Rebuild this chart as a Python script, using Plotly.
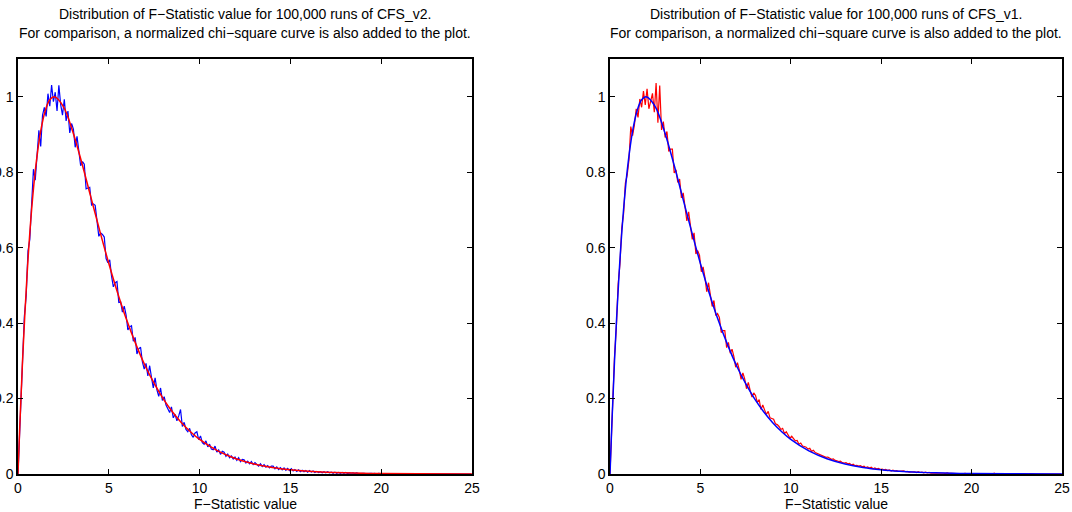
import numpy as np
import plotly.graph_objects as go

# Histogram bin centres (0.1 wide) plus the origin
hist_x = [0.0] + [round(0.05 + 0.1 * i, 2) for i in range(250)]

# Left panel: CFS_v2 histogram (blue), normalised
cfs_v2 = [0.0,
    0.058, 0.205, 0.287, 0.418, 0.472, 0.591, 0.622, 0.716, 0.808, 0.779,
    0.862, 0.911, 0.868, 0.951, 0.972, 0.948, 1.008, 0.975, 1.031, 0.987,
    1.012, 0.962, 1.030, 0.979, 0.951, 0.993, 0.936, 0.962, 0.904, 0.929,
    0.914, 0.866, 0.895, 0.857, 0.817, 0.828, 0.821, 0.756, 0.758, 0.760,
    0.713, 0.716, 0.712, 0.662, 0.630, 0.639, 0.635, 0.628, 0.571, 0.560,
    0.568, 0.525, 0.496, 0.507, 0.510, 0.455, 0.457, 0.429, 0.445, 0.422,
    0.382, 0.390, 0.393, 0.352, 0.362, 0.318, 0.332, 0.336, 0.297, 0.278,
    0.293, 0.260, 0.287, 0.256, 0.228, 0.255, 0.223, 0.206, 0.228, 0.195,
    0.205, 0.183, 0.172, 0.163, 0.178, 0.149, 0.158, 0.141, 0.154, 0.171,
    0.126, 0.137, 0.118, 0.112, 0.121, 0.104, 0.097, 0.109, 0.112, 0.091,
    0.101, 0.083, 0.079, 0.088, 0.072, 0.079, 0.066, 0.064, 0.074, 0.058,
    0.064, 0.052, 0.060, 0.058, 0.047, 0.053, 0.043, 0.048, 0.040, 0.045,
    0.036, 0.043, 0.033, 0.039, 0.038, 0.029, 0.034, 0.027, 0.033, 0.025,
    0.030, 0.024, 0.021, 0.027, 0.020, 0.025, 0.018, 0.022, 0.016, 0.021,
    0.021, 0.014, 0.019, 0.012, 0.017, 0.011, 0.016, 0.010, 0.015, 0.009,
    0.014, 0.008, 0.012, 0.007, 0.011, 0.006, 0.010, 0.006, 0.009, 0.005,
    0.009, 0.005, 0.008, 0.004, 0.007, 0.004, 0.006, 0.003, 0.006, 0.003,
    0.006, 0.003, 0.005, 0.002, 0.005, 0.002, 0.004, 0.002, 0.004, 0.002,
    0.004, 0.001, 0.003, 0.002, 0.003, 0.001, 0.003, 0.001, 0.002, 0.001,
    0.002, 0.001, 0.002, 0.001, 0.002, 0.001, 0.002, 0.000, 0.002, 0.001,
    0.001, 0.002, 0.000, 0.001, 0.001, 0.000, 0.001, 0.002, 0.000, 0.001,
    0.000, 0.001, 0.001, 0.000, 0.001, 0.000, 0.000, 0.001, 0.000, 0.001,
    0.000, 0.000, 0.001, 0.000, 0.000, 0.001, 0.000, 0.000, 0.000, 0.001,
    0.000, 0.000, 0.000, 0.001, 0.000, 0.000, 0.000, 0.000, 0.001, 0.000,
    0.000, 0.000, 0.000, 0.000, 0.001, 0.000, 0.000, 0.000, 0.000, 0.000]

# Right panel: CFS_v1 histogram (red), normalised
cfs_v1 = [0.0,
    0.071, 0.178, 0.312, 0.388, 0.503, 0.556, 0.651, 0.689, 0.771, 0.792,
    0.833, 0.921, 0.897, 0.925, 0.968, 0.945, 0.994, 0.972, 1.015, 0.978,
    1.021, 0.968, 0.985, 1.009, 0.959, 1.036, 0.931, 1.030, 0.912, 0.934,
    0.892, 0.908, 0.855, 0.861, 0.861, 0.798, 0.806, 0.773, 0.782, 0.732,
    0.745, 0.702, 0.671, 0.695, 0.659, 0.622, 0.639, 0.583, 0.592, 0.580,
    0.536, 0.549, 0.521, 0.483, 0.507, 0.478, 0.444, 0.460, 0.420, 0.425,
    0.415, 0.375, 0.380, 0.380, 0.335, 0.349, 0.320, 0.331, 0.312, 0.283,
    0.295, 0.276, 0.251, 0.268, 0.252, 0.226, 0.243, 0.222, 0.204, 0.215,
    0.208, 0.190, 0.197, 0.171, 0.183, 0.170, 0.158, 0.166, 0.149, 0.147,
    0.145, 0.133, 0.131, 0.126, 0.118, 0.121, 0.107, 0.112, 0.103, 0.095,
    0.100, 0.093, 0.088, 0.089, 0.079, 0.082, 0.074, 0.073, 0.071, 0.066,
    0.068, 0.060, 0.063, 0.057, 0.055, 0.054, 0.050, 0.048, 0.047, 0.044,
    0.045, 0.041, 0.039, 0.040, 0.036, 0.035, 0.033, 0.034, 0.030, 0.029,
    0.030, 0.027, 0.028, 0.024, 0.026, 0.022, 0.023, 0.021, 0.022, 0.019,
    0.021, 0.017, 0.019, 0.016, 0.018, 0.014, 0.016, 0.013, 0.015, 0.012,
    0.013, 0.011, 0.012, 0.009, 0.011, 0.008, 0.010, 0.008, 0.009, 0.007,
    0.008, 0.007, 0.008, 0.006, 0.007, 0.005, 0.006, 0.005, 0.006, 0.004,
    0.006, 0.004, 0.005, 0.003, 0.005, 0.003, 0.004, 0.002, 0.003, 0.002,
    0.003, 0.002, 0.003, 0.002, 0.002, 0.001, 0.003, 0.001, 0.002, 0.001,
    0.002, 0.001, 0.001, 0.002, 0.001, 0.001, 0.002, 0.000, 0.001, 0.001,
    0.001, 0.001, 0.000, 0.001, 0.001, 0.000, 0.001, 0.001, 0.000, 0.001,
    0.001, 0.000, 0.002, 0.000, 0.001, 0.000, 0.000, 0.001, 0.000, 0.000,
    0.000, 0.001, 0.000, 0.000, 0.001, 0.000, 0.000, 0.000, 0.001, 0.000,
    0.000, 0.000, 0.001, 0.000, 0.000, 0.000, 0.000, 0.001, 0.000, 0.000,
    0.000, 0.000, 0.000, 0.000, 0.000, 0.001, 0.000, 0.000, 0.000, 0.000]

# Normalised chi-square reference curve
chi_x = [0, 0.1, 0.25, 0.5, 0.75, 1, 1.25, 1.5, 1.75, 2, 2.5, 3, 3.5, 4, 4.5, 5,
         5.5, 6, 6.5, 7, 7.5, 8, 8.5, 9, 9.5, 10, 11, 12, 13, 14, 15, 16, 17,
         18, 19, 20, 22, 25]
chi_y = [0, 0.129, 0.300, 0.529, 0.701, 0.824, 0.909, 0.963, 0.992, 1.000,
         0.974, 0.910, 0.827, 0.736, 0.645, 0.558, 0.478, 0.406, 0.343, 0.287,
         0.240, 0.199, 0.165, 0.136, 0.112, 0.0916, 0.0611, 0.0404, 0.0266,
         0.0174, 0.0113, 0.0073, 0.0047, 0.0030, 0.0019, 0.0012, 0.0005, 0.0001]

x_ticks = [0, 5, 10, 15, 20, 25]
y_ticks = [0, 0.2, 0.4, 0.6, 0.8, 1]
y_tick_text = ["0", "0.2", "0.4", "0.6", "0.8", "1"]

title_l1 = ["Distribution of F\u2212Statistic value for 100,000 runs of CFS_v2.",
            "Distribution of F\u2212Statistic value for 100,000 runs of CFS_v1."]
title_l2 = "For comparison, a normalized chi\u2212square curve is also added to the plot."
x_label = "F\u2212Statistic value"

W, H = 1072, 512
FONT = "Liberation Sans, Arial, Helvetica, sans-serif"
FS = 14

fig = go.Figure()
fig.add_trace(go.Scatter(x=hist_x, y=cfs_v2, mode="lines",
                         line=dict(color="#0000ff", width=1.2), xaxis="x", yaxis="y"))
fig.add_trace(go.Scatter(x=chi_x, y=chi_y, mode="lines", line_shape="spline",
                         line=dict(color="#ff0000", width=1.5), xaxis="x", yaxis="y"))
fig.add_trace(go.Scatter(x=hist_x, y=cfs_v1, mode="lines",
                         line=dict(color="#ff0000", width=1.2), xaxis="x2", yaxis="y2"))
fig.add_trace(go.Scatter(x=chi_x, y=chi_y, mode="lines", line_shape="spline",
                         line=dict(color="#0000ff", width=1.5), xaxis="x2", yaxis="y2"))

ydom = [(H - 474) / H, (H - 59) / H]
doms = [[18 / W, 472 / W], [610 / W, 1062 / W]]

axis_common = dict(showgrid=False, zeroline=False, showline=True, linecolor="black",
                   linewidth=1.5, mirror="ticks", ticks="inside", ticklen=5,
                   tickcolor="black", tickwidth=1, automargin=False,
                   tickfont=dict(family=FONT, size=FS, color="black"))

layout = dict(width=W, height=H, margin=dict(l=0, r=0, t=0, b=0, autoexpand=False),
              paper_bgcolor="white", plot_bgcolor="white", showlegend=False,
              font=dict(family=FONT, size=FS, color="black"))
for i, (xa, ya) in enumerate([("xaxis", "yaxis"), ("xaxis2", "yaxis2")]):
    layout[xa] = dict(axis_common, domain=doms[i], range=[0, 25], tickvals=x_ticks,
                      anchor="y" if i == 0 else "y2")
    layout[ya] = dict(axis_common, domain=ydom, range=[0, 1.1], tickvals=y_ticks,
                      ticktext=y_tick_text, anchor="x" if i == 0 else "x2")
fig.update_layout(**layout)

annotations = []
for i in range(2):
    cx = (doms[i][0] + doms[i][1]) / 2
    annotations.append(dict(x=cx, y=(H - 14) / H, xref="paper", yref="paper",
                            text=title_l1[i], showarrow=False, xanchor="center",
                            yanchor="middle", font=dict(family=FONT, size=FS)))
    annotations.append(dict(x=cx, y=(H - 33) / H, xref="paper", yref="paper",
                            text=title_l2, showarrow=False, xanchor="center",
                            yanchor="middle", font=dict(family=FONT, size=FS)))
    annotations.append(dict(x=cx, y=(H - 504) / H, xref="paper", yref="paper",
                            text=x_label, showarrow=False, xanchor="center",
                            yanchor="middle", font=dict(family=FONT, size=FS)))
fig.update_layout(annotations=annotations)

fig.write_html("out.html")
